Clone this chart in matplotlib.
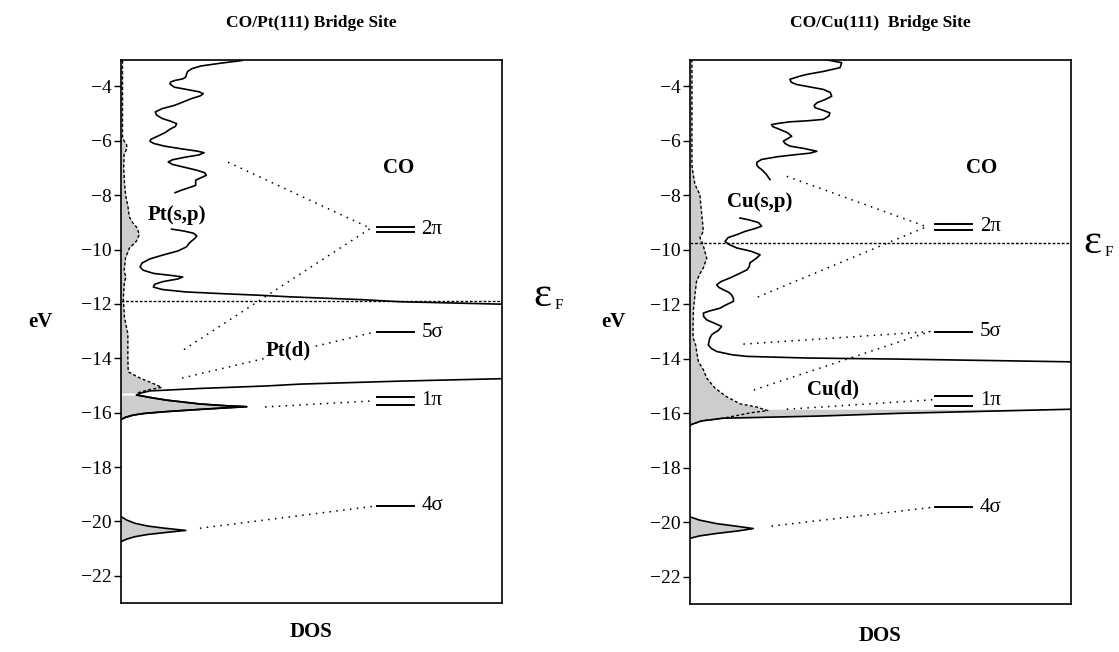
import numpy as np
import matplotlib
matplotlib.use('Agg')
import matplotlib.pyplot as plt

plt.rcParams['font.family'] = ['Liberation Serif', 'DejaVu Serif']

# ---------------- data (E in eV, DOS in arbitrary units 0..100) ----------------
# CO/Pt(111)
pt_sp1_E = [-3.05, -3.15, -3.25, -3.35, -3.45, -3.55, -3.65, -3.72, -3.78, -3.84, -3.92, -4.03, -4.12, -4.20,
            -4.27, -4.35, -4.45, -4.58, -4.70, -4.82, -4.94, -5.05, -5.18, -5.28, -5.37, -5.47, -5.58, -5.70,
            -5.82, -5.95, -6.02, -6.10, -6.20, -6.30, -6.38, -6.44, -6.52, -6.60, -6.70, -6.78, -6.87, -6.97,
            -7.08, -7.18, -7.27, -7.36, -7.45, -7.55, -7.64, -7.72, -7.82, -7.91]
pt_sp1_x = [31.7, 26.0, 21.0, 18.6, 17.5, 17.2, 17.0, 16.3, 14.2, 13.0, 12.9, 14.0, 17.5, 20.5,
            21.6, 20.8, 18.5, 16.2, 14.0, 10.8, 9.0, 9.3, 10.8, 13.0, 14.6, 14.3, 12.8, 11.6,
            9.8, 7.8, 7.6, 8.6, 11.5, 16.0, 20.0, 21.8, 20.5, 17.0, 13.5, 12.4, 13.5, 16.5,
            19.8, 22.0, 22.4, 21.0, 19.6, 19.6, 19.6, 18.0, 15.8, 14.2]
pt_sp2_E = [-9.25, -9.32, -9.40, -9.50, -9.60, -9.75, -9.90, -10.05, -10.21, -10.35, -10.50, -10.64, -10.76,
            -10.88, -10.95, -11.01, -11.08, -11.18, -11.28, -11.38, -11.47, -11.56, -11.62, -11.68, -11.74,
            -11.84, -11.92, -12.01]
pt_sp2_x = [13.3, 16.5, 19.0, 19.9, 19.3, 18.0, 17.2, 15.0, 10.8, 7.5, 5.5, 5.0, 5.8,
            8.6, 13.0, 16.2, 15.0, 11.0, 8.8, 8.5, 10.8, 17.0, 26.0, 36.0, 44.4,
            62.7, 73.2, 100.0]
pt_d_E = [-14.75, -14.84, -14.95, -15.02, -15.11, -15.17, -15.20, -15.28, -15.35, -15.45, -15.54, -15.68,
          -15.75, -15.78, -15.82, -15.88, -15.96, -16.03, -16.09, -16.17, -16.25]
pt_d_x = [100.0, 73.2, 47.0, 37.8, 20.7, 12.0, 7.6, 5.2, 4.1, 8.0, 12.0, 20.7,
          28.0, 33.0, 28.0, 20.7, 12.0, 6.0, 3.2, 1.2, 0.0]
pt_co_E = [-3.05, -5.85, -6.0, -6.15, -6.3, -6.5, -7.0, -7.5, -8.0, -8.4, -8.8, -9.0, -9.2, -9.45, -9.7,
           -9.95, -10.3, -10.8, -11.0, -11.2, -11.8, -12.5, -13.1, -14.0, -14.5, -14.73, -14.9, -15.07,
           -15.17, -15.28]
pt_co_x = [0.4, 0.4, 0.8, 1.5, 1.5, 0.8, 0.7, 0.9, 1.2, 1.8, 2.2, 3.0, 4.2, 4.8, 4.0,
           2.2, 1.2, 0.8, 1.3, 0.9, 0.6, 0.9, 1.8, 1.8, 1.9, 5.0, 8.0, 10.7,
           7.0, 4.1]
pt_4s_E = [-19.82, -19.95, -20.07, -20.17, -20.25, -20.33, -20.41, -20.48, -20.56, -20.65, -20.74]
pt_4s_x = [0.0, 1.5, 3.7, 7.0, 11.5, 17.0, 11.5, 7.0, 3.7, 1.5, 0.0]
pt_fermi = -11.89

# CO/Cu(111)
cu_sp1_E = [-3.01, -3.13, -3.31, -3.45, -3.55, -3.62, -3.74, -3.85, -3.93, -4.02, -4.11, -4.22, -4.36, -4.48,
            -4.60, -4.70, -4.78, -4.88, -4.97, -5.08, -5.21, -5.26, -5.30, -5.35, -5.40, -5.48, -5.58, -5.70,
            -5.83, -5.92, -6.01, -6.10, -6.19, -6.28, -6.38, -6.45, -6.50, -6.58, -6.68, -6.78, -6.87, -6.96,
            -7.05, -7.22, -7.42]
cu_sp1_x = [35.4, 39.8, 39.4, 35.0, 31.0, 28.9, 26.2, 26.6, 28.0, 31.5, 35.0, 36.8, 37.2, 35.5,
            33.3, 32.6, 32.8, 35.0, 36.7, 36.5, 35.0, 31.0, 26.2, 23.5, 21.4, 21.8, 23.6, 25.6,
            26.7, 25.6, 24.5, 25.0, 26.2, 30.0, 33.3, 31.5, 28.0, 23.0, 18.8, 17.6, 17.5, 17.9,
            18.8, 20.0, 21.0]
cu_sp2_E = [-8.83, -8.90, -9.00, -9.13, -9.22, -9.32, -9.44, -9.55, -9.69, -9.80, -9.93, -10.05, -10.18,
            -10.30, -10.48, -10.60, -10.73, -10.88, -11.03, -11.16, -11.28, -11.38, -11.46, -11.56, -11.65,
            -11.78, -11.89, -11.95, -12.05, -12.14, -12.24, -12.32, -12.45, -12.57, -12.70, -12.81, -12.95,
            -13.10, -13.24, -13.49, -13.62, -13.73, -13.85, -13.91, -13.97, -14.01, -14.11]
cu_sp2_x = [13.1, 15.5, 18.0, 18.8, 17.0, 14.5, 12.3, 10.0, 9.2, 10.2, 12.3, 16.0, 18.4,
            17.5, 15.7, 15.6, 15.0, 12.8, 10.5, 8.2, 7.0, 7.6, 8.7, 10.2, 10.9,
            11.4, 11.4, 10.5, 9.0, 7.9, 5.2, 3.5, 3.6, 4.4, 6.5, 8.3, 7.5,
            5.8, 5.2, 4.8, 5.6, 7.0, 11.0, 14.9, 30.6, 55.1, 100.0]
cu_d_E = [-16.43, -16.28, -16.18, -16.10, -16.00, -15.85]
cu_d_x = [0.0, 3.0, 8.7, 34.1, 55.1, 100.0]
cu_co_E = [-3.01, -6.87, -7.2, -7.6, -7.97, -8.3, -8.71, -9.0, -9.32, -9.55, -9.8, -10.06, -10.30, -10.66,
           -10.9, -11.16, -11.65, -12.2, -12.8, -13.23, -13.5, -13.79, -14.10, -14.4, -14.71, -15.08,
           -15.39, -15.65, -15.77, -15.90, -15.98, -16.06, -16.18, -16.28, -16.43]
cu_co_x = [0.5, 0.5, 0.8, 1.3, 2.6, 2.8, 3.1, 3.3, 3.5, 2.6, 3.4, 3.9, 4.4, 3.5,
           2.5, 1.7, 1.3, 0.9, 0.8, 0.8, 1.5, 1.8, 2.2, 3.5, 4.4, 6.6,
           9.6, 13.1, 17.5, 20.4, 16.0, 13.1, 8.7, 3.0, 0.0]
cu_4s_E = [-19.80, -19.92, -20.05, -20.15, -20.23, -20.32, -20.41, -20.50, -20.59]
cu_4s_x = [0.0, 2.5, 7.0, 12.5, 16.6, 12.5, 7.0, 2.5, 0.0]
cu_fermi = -9.75

# CO molecular levels: (label, energies)
pt_levels = [('2π', [-9.18, -9.36]), ('5σ', [-13.04]), ('1π', [-15.42, -15.72]), ('4σ', [-19.43])]
cu_levels = [('2π', [-9.04, -9.26]), ('5σ', [-13.00]), ('1π', [-15.36, -15.73]), ('4σ', [-19.44])]

# dotted correlation lines (x, E)
pt_links = [([28.1, 65.5, 16.3], [-6.79, -9.22, -13.70]),
            ([16.0, 65.9], [-14.73, -13.06]),
            ([37.8, 65.9], [-15.79, -15.57]),
            ([20.7, 65.9], [-20.25, -19.45])]
cu_links = [([25.4, 62.1, 17.1], [-7.30, -9.15, -11.77]),
            ([14.0, 63.0, 16.2], [-13.46, -13.00, -15.17]),
            ([25.4, 63.9], [-15.85, -15.50]),
            ([21.4, 64.3], [-20.14, -19.44])]

shade = '#cdcdcd'
dash = (0, (2.2, 1.6))
dots = (0, (1, 3.5))
lab = 15


def panel(ax, co_E, co_x, peak_E, peak_x, fermi, levels, lvl_x, links, lab_x):
    ax.fill_betweenx(co_E, 0, co_x, color=shade, lw=0)
    ax.fill_betweenx(peak_E, 0, peak_x, color=shade, lw=0)
    ax.plot(co_x, co_E, color='k', lw=1.0, ls=dash)
    ax.plot(peak_x, peak_E, color='k', lw=1.2)
    ax.plot([0, 100], [fermi, fermi], color='k', lw=1.0, ls=(0, (2, 1.3)))
    for name, es in levels:
        for e in es:
            ax.plot(lvl_x, [e, e], color='k', lw=1.4)
        ax.text(lab_x, np.mean(es), name, fontsize=lab, va='center', ha='left')
    for xs, es in links:
        ax.plot(xs, es, color='k', lw=1.1, ls=dots)
    ax.set_xlim(0, 100)
    ax.set_ylim(-23.0, -3.03)
    ax.set_xticks([])
    ax.set_yticks(range(-22, -3, 2))
    ax.set_yticklabels(['\u2212%d' % -v for v in range(-22, -3, 2)])
    ax.tick_params(axis='y', direction='out', length=5, width=1, labelsize=14, pad=2)
    for s in ax.spines.values():
        s.set_linewidth(1.2)


fig = plt.figure(figsize=(11.19, 6.52), dpi=100)
ax1 = fig.add_axes([121 / 1119, 1 - 603 / 652, 381 / 1119, 543 / 652])
ax2 = fig.add_axes([690 / 1119, 1 - 604 / 652, 381 / 1119, 544 / 652])

# Pt panel
panel(ax1, pt_co_E, pt_co_x, pt_d_E[8:], pt_d_x[8:], pt_fermi, pt_levels, [67.3, 76.9], pt_links, 78.9)
ax1.plot(pt_sp1_x, pt_sp1_E, color='k', lw=1.2)
ax1.plot(pt_sp2_x, pt_sp2_E, color='k', lw=1.2)
ax1.plot(pt_d_x, pt_d_E, color='k', lw=1.2)
ax1.fill_betweenx(pt_4s_E, 0, pt_4s_x, color=shade, lw=0)
ax1.plot(pt_4s_x, pt_4s_E, color='k', lw=1.2)
ax1.text(14.6, -8.74, 'Pt(s,p)', fontsize=lab, fontweight='bold', ha='center', va='center')
ax1.text(43.8, -13.70, 'Pt(d)', fontsize=lab, fontweight='bold', ha='center', va='center',
         bbox=dict(facecolor='white', edgecolor='none', pad=1))
ax1.text(72.8, -7.02, 'CO', fontsize=lab, fontweight='bold', ha='center', va='center')

# Cu panel
panel(ax2, cu_co_E, cu_co_x, cu_d_E, cu_d_x, cu_fermi, cu_levels, [64.3, 73.9], cu_links, 76.1)
ax2.plot(cu_sp1_x, cu_sp1_E, color='k', lw=1.2)
ax2.plot(cu_sp2_x, cu_sp2_E, color='k', lw=1.2)
ax2.fill_betweenx(cu_4s_E, 0, cu_4s_x, color=shade, lw=0)
ax2.plot(cu_4s_x, cu_4s_E, color='k', lw=1.2)
ax2.text(18.4, -8.25, 'Cu(s,p)', fontsize=lab, fontweight='bold', ha='center', va='center')
ax2.text(37.6, -15.14, 'Cu(d)', fontsize=lab, fontweight='bold', ha='center', va='center')
ax2.text(76.6, -6.99, 'CO', fontsize=lab, fontweight='bold', ha='center', va='center')

# figure labels
fig.text(311 / 1119, 1 - 23 / 652, 'CO/Pt(111) Bridge Site', fontsize=12.5, fontweight='bold', ha='center', va='center')
fig.text(880 / 1119, 1 - 23 / 652, 'CO/Cu(111)  Bridge Site', fontsize=12.5, fontweight='bold', ha='center', va='center')
fig.text(311 / 1119, 1 - 632 / 652, 'DOS', fontsize=15, fontweight='bold', ha='center', va='center')
fig.text(880 / 1119, 1 - 636 / 652, 'DOS', fontsize=15, fontweight='bold', ha='center', va='center')
fig.text(40 / 1119, 1 - 322 / 652, 'eV', fontsize=15, fontweight='bold', ha='center', va='center')
fig.text(613 / 1119, 1 - 322 / 652, 'eV', fontsize=15, fontweight='bold', ha='center', va='center')
for ex, ey in [(542, 296), (1092, 243)]:
    fig.text(ex / 1119, 1 - ey / 652, 'ε', fontsize=31, ha='center', va='center')
    fig.text((ex + 17) / 1119, 1 - (ey + 9) / 652, 'F', fontsize=11, ha='center', va='center')

fig.savefig('out.png', dpi=100)
